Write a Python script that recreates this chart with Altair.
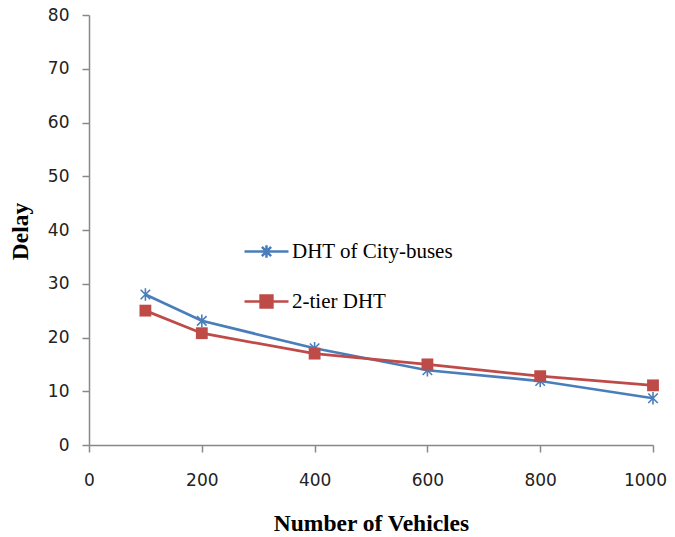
import altair as alt
import pandas as pd

vehicles = [100, 200, 400, 600, 800, 1000]
city_buses = [28, 23.1, 18, 13.9, 11.9, 8.7]
two_tier = [25, 20.8, 17, 15, 12.8, 11.1]
series_names = ["DHT of City-buses", "2-tier DHT"]
colors = ["#4A7EBB", "#BE4B48"]

rows = []
for x, v in zip(vehicles, city_buses):
    rows.append({"Vehicles": x, "Delay": v, "Series": series_names[0]})
for x, v in zip(vehicles, two_tier):
    rows.append({"Vehicles": x, "Delay": v, "Series": series_names[1]})
df = pd.DataFrame(rows)

ASTERISK = "M0,-1V1M-0.75,-0.75L0.75,0.75M-0.75,0.75L0.75,-0.75"
LEG_AST = "M-1,0H1M0,-0.28V0.28M-0.21,-0.21L0.21,0.21M-0.21,0.21L0.21,-0.21"
LEG_SQ = "M-1,0H1M-0.27,-0.27H0.27V0.27H-0.27Z"

x_enc = alt.X(
    "Vehicles:Q",
    scale=alt.Scale(domain=[0, 1000], nice=False),
    axis=alt.Axis(
        values=[0, 200, 400, 600, 800, 1000], format="d", labelFlush=False,
        labelOffset={"condition": {"test": "datum.value === 1000", "value": -8}, "value": 0},
        title="Number of Vehicles",
        titleX=282, titleY=78, titleBaseline="middle", titleAlign="center",
    ),
)
y_enc = alt.Y(
    "Delay:Q",
    scale=alt.Scale(domain=[0, 80], nice=False),
    axis=alt.Axis(
        values=[0, 10, 20, 30, 40, 50, 60, 70, 80], format="d", labelFlush=False,
        title="Delay",
        titleAngle=-90, titleX=-69, titleY=216,
        titleBaseline="middle", titleAlign="center",
    ),
)
stroke_scale = alt.Scale(domain=series_names, range=colors)
fill_scale = alt.Scale(domain=series_names, range=["transparent", colors[1]])

base = alt.Chart(df)

line_a = base.mark_line(strokeWidth=2.7, color=colors[0]).encode(
    x=x_enc, y=y_enc,
).transform_filter(alt.datum.Series == series_names[0])
line_b = base.mark_line(strokeWidth=2.7, color=colors[1]).encode(
    x=x_enc, y=y_enc,
).transform_filter(alt.datum.Series == series_names[1])

pts_ast = base.mark_point(shape=ASTERISK, size=160, strokeWidth=1.6, opacity=1, color=colors[0]).encode(
    x=x_enc, y=y_enc,
).transform_filter(alt.datum.Series == series_names[0])

pts_sq = base.mark_point(shape="square", size=140, filled=True, opacity=1, color=colors[1]).encode(
    x=x_enc, y=y_enc,
).transform_filter(alt.datum.Series == series_names[1])

leg = alt.Legend(
    orient="none", legendX=154, legendY=213, title=None,
    symbolSize=1936, symbolStrokeWidth=2.5,
    labelFont="Liberation Serif", labelFontSize=21, labelColor="black",
    labelOffset=2, labelLimit=400, rowPadding=15, padding=0,
)
legend_layer = base.mark_point(opacity=1, strokeWidth=2.5).encode(
    x=x_enc, y=y_enc,
    stroke=alt.Stroke("Series:N", scale=stroke_scale, legend=leg),
    fill=alt.Fill("Series:N", scale=fill_scale, legend=leg),
    shape=alt.Shape("Series:N", scale=alt.Scale(domain=series_names, range=[LEG_AST, LEG_SQ]), legend=leg),
).transform_filter("datum.Delay < 0")

chart = alt.layer(line_a, line_b, pts_ast, pts_sq, legend_layer).properties(
    width=564, height=430,
    autosize=alt.AutoSizeParams(type="none"),
    padding={"left": 81, "top": 7, "right": 14, "bottom": 88},
    background="white",
).configure_view(stroke=None).configure_axis(
    grid=False,
    domainColor="#888888", domainWidth=1.5,
    tickColor="#888888", tickWidth=1.5, tickSize=7,
    labelFont="DejaVu Sans", labelFontSize=17, labelColor="#222222",
    titleFont="Liberation Serif", titleFontSize=23.5, titleFontWeight="bold", titleColor="black",
).configure_axisY(labelPadding=13).configure_axisX(labelPadding=20)

chart.save("out.html", embed_options={"renderer": "svg", "actions": False})
